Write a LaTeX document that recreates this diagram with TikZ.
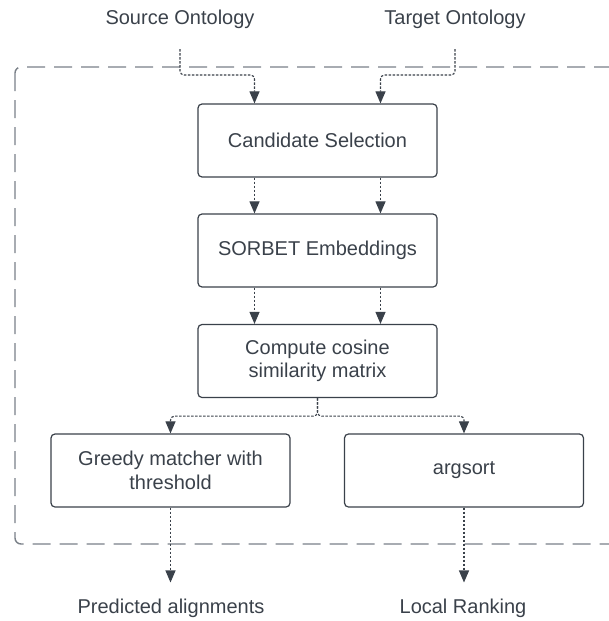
\documentclass[tikz,border=0pt]{standalone}
\usepackage{fontspec}
\setmainfont{Liberation Sans}
\usetikzlibrary{arrows.meta}

\definecolor{ink}{HTML}{3A414A}
\definecolor{frame}{HTML}{7A8088}

\tikzset{
  box/.style={draw=ink,line width=1.2pt,rounded corners=4pt,minimum width=239pt,minimum height=73pt,inner sep=0pt,align=center},
  flow/.style={draw=ink,line width=1.1pt,dash pattern=on 2.5pt off 1.5pt,rounded corners=4pt,-{Triangle[length=12pt,width=10pt]}},
}

\begin{document}
\begin{tikzpicture}[x=1pt,y=-1pt,font=\fontsize{20}{23.5}\selectfont,text=ink]
      \useasboundingbox (0,0) rectangle (609,621);

      % Group
      \draw[frame,line width=1.4pt,dash pattern=on 18pt off 9pt,rounded corners=6pt] (15,67) rectangle (640,544);

      % Nodes
      \begin{scope}[every node/.style={box}]
        \node (cand) at (317.5,140.5) {Candidate Selection};
        \node (sorbet) at (317.5,250.5) {SORBET Embeddings};
        \node (cosine) at (317.5,361) {Compute cosine\\similarity matrix};
        \node (greedy) at (170.5,470.5) {Greedy matcher with\\threshold};
        \node (argsort) at (464,470.5) {argsort};
      \end{scope}

      \begin{scope}[every node/.style={inner sep=0pt}]
        \node (src) at (180,19.5) {Source Ontology};
        \node (tgt) at (455,19.5) {Target Ontology};
        \node (pred) at (171,608) {Predicted alignments};
        \node (rank) at (463,608) {Local Ranking};
      \end{scope}

      % Edges
      \draw[flow,shorten <=20pt] (src.south) -- (src.south |- 0,75) -| ([xshift=-63pt]cand.north);
      \draw[flow,shorten <=20pt] (tgt.south) -- (tgt.south |- 0,75) -| ([xshift=63pt]cand.north);

      \draw[flow] ([xshift=-63pt]cand.south) -- ([xshift=-63pt]sorbet.north);
      \draw[flow] ([xshift=63pt]cand.south) -- ([xshift=63pt]sorbet.north);
      \draw[flow] ([xshift=-63pt]sorbet.south) -- ([xshift=-63pt]cosine.north);
      \draw[flow] ([xshift=63pt]sorbet.south) -- ([xshift=63pt]cosine.north);

      \draw[flow] (cosine.south) -- ++(0,18) -| (greedy.north);
      \draw[flow] (cosine.south) -- ++(0,18) -| (argsort.north);

      \draw[flow,shorten >=16pt] (greedy.south) -- (greedy.south |- pred.north);
      \draw[flow,shorten >=16pt] (argsort.south) -- (argsort.south |- rank.north);

\end{tikzpicture}
\end{document}
